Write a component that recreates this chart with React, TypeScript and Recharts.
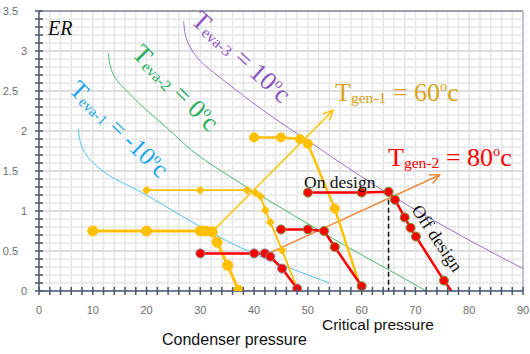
import React from 'react';
import { ComposedChart, Line, XAxis, YAxis, CartesianGrid, ReferenceLine } from 'recharts';

// evaporator isotherms
const evaM10X = [7.3, 7.6, 8.5, 10, 12, 14, 17.5, 20, 25, 30, 35, 40, 45, 50, 54];
const evaM10Y = [2.03, 1.85, 1.72, 1.6, 1.49, 1.4, 1.29, 1.2, 1.0, 0.8, 0.62, 0.46, 0.33, 0.2, 0.1];
const eva0X = [12.9, 13.1, 13.6, 14.8, 16.3, 18.5, 20.7, 25, 28, 32, 36, 40.5, 45, 50, 55, 60, 66, 72];
const eva0Y = [2.97, 2.85, 2.72, 2.6, 2.5, 2.35, 2.22, 1.97, 1.77, 1.58, 1.41, 1.22, 1.04, 0.84, 0.64, 0.45, 0.23, 0];
const eva10X = [26.9, 27.1, 28, 29.5, 31.5, 35, 38, 41, 45, 50, 55, 59, 66, 75, 82, 90];
const eva10Y = [3.37, 3.2, 3.05, 2.9, 2.78, 2.6, 2.44, 2.29, 2.1, 1.88, 1.65, 1.47, 1.17, 0.82, 0.56, 0.28];

// generator 60°C operating lines
const gen60aX = [40, 45, 48.5, 50, 55, 60];
const gen60aY = [1.92, 1.92, 1.9, 1.84, 1.03, 0];
const gen60bX = [20, 30, 38.7, 40.2, 41.2, 42.1, 43, 45.2, 48.2];
const gen60bY = [1.26, 1.26, 1.26, 1.23, 1.18, 1.01, 0.86, 0.51, 0];
const gen60cX = [10, 20, 30, 31, 32.2, 33.1, 35.1, 37.1];
const gen60cY = [0.75, 0.75, 0.75, 0.75, 0.74, 0.61, 0.32, 0.01];

// generator 80°C operating lines
const gen80aX = [30, 40, 42, 43, 45.2, 48];
const gen80aY = [0.47, 0.47, 0.47, 0.43, 0.28, 0.03];
const gen80bX = [45, 50, 53, 55, 60];
const gen80bY = [0.77, 0.77, 0.75, 0.55, 0.06];
const gen80cX = [50, 60, 65, 66.2, 68, 69.1, 70.1, 75.3, 76.7];
const gen80cY = [1.23, 1.23, 1.24, 1.14, 0.92, 0.79, 0.68, 0.13, 0];

// trend arrows and critical pressure marker
const arrow60X = [32.2, 54.7];
const arrow60Y = [0.74, 2.26];
const arrow80X = [42.7, 74.5];
const arrow80Y = [0.47, 1.45];
const criticalX = [65, 65];
const criticalY = [1.24, 0];

const xTicks = [0, 10, 20, 30, 40, 50, 60, 70, 80, 90];
const yTicks = [0, 0.5, 1, 1.5, 2, 2.5, 3, 3.5];
const xMinor = Array.from({ length: 46 }, (_, i) => i * 2);
const yMinor = Array.from({ length: 36 }, (_, i) => Math.round(i * 10) / 100);

const toPts = (xs: number[], ys: number[]) => xs.map((x, i) => ({ x, y: ys[i] }));

const AXIS = '#4a5870';
const YELLOW = '#ffc000';
const RED = '#ff0000';
const DOT_EDGE = '#6f9a3c';
const serif = '"Liberation Serif", "DejaVu Serif", serif';
const sans = '"Liberation Sans", Arial, sans-serif';

const roundDot = (fill: string, stroke: string, r: number, count: number, skipLast = false) => (p: any) => {
  const { cx, cy, index } = p;
  if (skipLast && index === count - 1) return <g key={`d${index}`} />;
  return <circle key={`d${index}`} cx={cx} cy={cy} r={r} fill={fill} stroke={stroke} strokeWidth={1} />;
};

const diamondDot = (fill: string, r: number, count: number) => (p: any) => {
  const { cx, cy, index } = p;
  if (index === count - 1) return <g key={`d${index}`} />;
  return <path key={`d${index}`} d={`M${cx},${cy - r}L${cx + r},${cy}L${cx},${cy + r}L${cx - r},${cy}Z`} fill={fill} />;
};

// open arrow head on the last point, pointing along the final segment
const arrowDot = (color: string) => (p: any) => {
  const { cx, cy, index, points } = p;
  if (!points || index !== points.length - 1) return <g key={`a${index}`} />;
  const prev = points[index - 1];
  const a = Math.atan2(cy - prev.y, cx - prev.x);
  const len = 11;
  const wing = (s: number) => `${cx - len * Math.cos(a + s)},${cy - len * Math.sin(a + s)}`;
  return <polyline key={`a${index}`} points={`${wing(0.45)} ${cx},${cy} ${wing(-0.45)}`} fill="none" stroke={color} strokeWidth={1.5} />;
};

const YTick = ({ x, y, payload }: any) => {
  const v = payload.value as number;
  const major = Math.abs(v * 2 - Math.round(v * 2)) < 1e-6;
  return (
    <g>
      <line x1={x - 4} x2={x + 4} y1={y} y2={y} stroke={AXIS} strokeWidth={1.5} />
      {major && (
        <text x={x - (Number.isInteger(v) ? 12 : 21)} y={y + 4} textAnchor="end" fontSize={11} fontFamily={sans} fill="#6e6e6e">
          {String(v)}
        </text>
      )}
    </g>
  );
};

const XTick = ({ x, y, payload }: any) => {
  const v = payload.value as number;
  return (
    <g>
      <line x1={x} x2={x} y1={y - 4} y2={y + 4} stroke={AXIS} strokeWidth={1.5} />
      {xTicks.includes(v) && (
        <text x={x} y={y + 23} textAnchor="middle" fontSize={11} fontFamily={sans} fill="#6e6e6e">
          {String(v)}
        </text>
      )}
    </g>
  );
};

// "T<sub> = value°c" style label
const TempLabel = ({ sub, value, size }: { sub: string; value: string; size: number }) => (
  <>
    <tspan fontSize={size}>T</tspan>
    <tspan fontSize={size * 0.6} dy={2}>{sub}</tspan>
    <tspan fontSize={size} dy={-2}>{` = ${value}`}</tspan>
    <tspan fontSize={size * 0.55} dy={-size * 0.38}>o</tspan>
    <tspan fontSize={size} dy={size * 0.38}>c</tspan>
  </>
);

export default function App() {
  return (
    <div style={{ position: 'absolute', left: 0, top: 0, width: 530, height: 354, background: '#fff' }}>
      <ComposedChart width={530} height={354} margin={{ top: 11, right: 7, left: 9, bottom: 38 }}>
        <CartesianGrid horizontalValues={yMinor} verticalValues={xMinor} stroke="#e6e6e6" strokeWidth={1.5} />
        <CartesianGrid horizontalValues={yTicks} vertical={false} stroke="#cfcfcf" strokeWidth={1.2} />
        <XAxis
          type="number"
          dataKey="x"
          domain={[0, 90]}
          ticks={xMinor}
          interval={0}
          allowDataOverflow
          height={25}
          stroke={AXIS}
          strokeWidth={1.5}
          tickSize={0}
          tickMargin={0}
          tickLine={false}
          tick={<XTick />}
        />
        <YAxis
          type="number"
          dataKey="y"
          domain={[0, 3.5]}
          ticks={yMinor}
          interval={0}
          allowDataOverflow
          width={30}
          stroke={AXIS}
          strokeWidth={1.5}
          tickSize={0}
          tickMargin={0}
          tickLine={false}
          tick={<YTick />}
        />
        <ReferenceLine y={3.5} stroke="#56657a" strokeWidth={1.2} />
        <ReferenceLine x={90} stroke="#a8adb5" strokeWidth={1.2} />

        <Line data={toPts(evaM10X, evaM10Y)} dataKey="y" type="basis" stroke="#4fc3f2" strokeWidth={1} dot={false} activeDot={false} isAnimationActive={false} />
        <Line data={toPts(eva0X, eva0Y)} dataKey="y" type="basis" stroke="#45b86e" strokeWidth={1} dot={false} activeDot={false} isAnimationActive={false} />
        <Line data={toPts(eva10X, eva10Y)} dataKey="y" type="basis" stroke="#9a72cc" strokeWidth={1} dot={false} activeDot={false} isAnimationActive={false} />

        <Line data={toPts(arrow60X, arrow60Y)} dataKey="y" type="linear" stroke={YELLOW} strokeWidth={1.5} dot={arrowDot(YELLOW)} activeDot={false} isAnimationActive={false} />
        <Line data={toPts(arrow80X, arrow80Y)} dataKey="y" type="linear" stroke="#f08a3c" strokeWidth={1.5} dot={arrowDot('#f08a3c')} activeDot={false} isAnimationActive={false} />

        <Line data={toPts(gen60aX, gen60aY)} dataKey="y" type="linear" stroke={YELLOW} strokeWidth={2.5} dot={roundDot(YELLOW, YELLOW, 4.5, gen60aX.length, true)} activeDot={false} isAnimationActive={false} />
        <Line data={toPts(gen60bX, gen60bY)} dataKey="y" type="linear" stroke={YELLOW} strokeWidth={1.8} dot={diamondDot(YELLOW, 4.5, gen60bX.length)} activeDot={false} isAnimationActive={false} />
        <Line data={toPts(gen60cX, gen60cY)} dataKey="y" type="linear" stroke={YELLOW} strokeWidth={3} dot={roundDot(YELLOW, YELLOW, 5, gen60cX.length)} activeDot={false} isAnimationActive={false} />

        <Line data={toPts(gen80aX, gen80aY)} dataKey="y" type="linear" stroke={RED} strokeWidth={2.5} dot={roundDot(RED, '#8a8a8a', 4.5, gen80aX.length)} activeDot={false} isAnimationActive={false} />
        <Line data={toPts(gen80bX, gen80bY)} dataKey="y" type="linear" stroke={RED} strokeWidth={2.5} dot={roundDot(RED, DOT_EDGE, 4.5, gen80bX.length)} activeDot={false} isAnimationActive={false} />
        <Line data={toPts(gen80cX, gen80cY)} dataKey="y" type="linear" stroke={RED} strokeWidth={2.5} dot={roundDot(RED, DOT_EDGE, 4.5, gen80cX.length, true)} activeDot={false} isAnimationActive={false} />

        <Line data={toPts(criticalX, criticalY)} dataKey="y" type="linear" stroke="#111" strokeWidth={1.5} strokeDasharray="5 3" dot={false} activeDot={false} isAnimationActive={false} />
      </ComposedChart>

      <svg width={530} height={354} style={{ position: 'absolute', left: 0, top: 0, pointerEvents: 'none' }}>
        <text x={48} y={35} fontFamily={serif} fontStyle="italic" fontSize={20} fill="#111">ER</text>

        <text transform="translate(68,91) rotate(44)" fontFamily={serif} fill="#17a6ea">
          <TempLabel sub="eva-1" value="-10" size={25} />
        </text>
        <text transform="translate(131,55) rotate(45)" fontFamily={serif} fill="#27ad5c">
          <TempLabel sub="eva-2" value="0" size={26} />
        </text>
        <text transform="translate(190,22) rotate(42)" fontFamily={serif} fill="#8a54c2">
          <TempLabel sub="eva-3" value="10" size={26} />
        </text>

        <text x={335} y={101} fontFamily={serif} fill="#d9a418">
          <TempLabel sub="gen-1" value="60" size={26} />
        </text>
        <text x={388} y={166} fontFamily={serif} fill={RED}>
          <TempLabel sub="gen-2" value="80" size={26} />
        </text>

        <text x={304} y={188} fontFamily={serif} fontSize={17.5} fill="#111">On design</text>
        <text transform="translate(411,210) rotate(56)" fontFamily={serif} fontSize={18} fill="#111">Off design</text>

        <text x={162} y={345} fontFamily={sans} fontSize={16} fill="#111">Condenser pressure</text>
        <text x={322} y={330} fontFamily={sans} fontSize={15.5} fill="#111">Critical pressure</text>
      </svg>
    </div>
  );
}
